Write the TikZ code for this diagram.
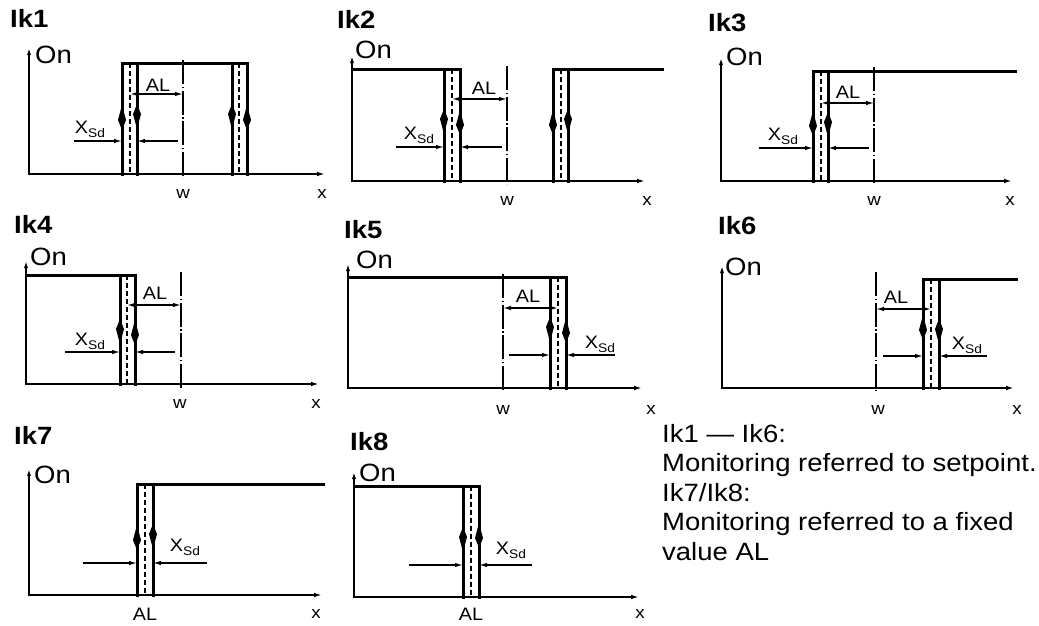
\documentclass[tikz,border=0pt]{standalone}
\usepackage{fontspec}
\setmainfont{Liberation Sans}[FakeStretch=1.1]
\usetikzlibrary{arrows.meta}
\newcommand{\xsdlabel}{X\raisebox{-4pt}{\fontsize{12.5}{12.5}\selectfont Sd}}
\begin{document}
\begin{tikzpicture}[x=1pt,y=-1pt,
  axis/.style={line width=2.4pt,{Latex[length=8pt,width=4pt]}-{Latex[length=9pt,width=4.5pt]}},
  sig/.style={line width=3pt,line join=miter,line cap=rect},
  dsh/.style={line width=1.3pt,dash pattern=on 5pt off 3pt},
  wline/.style={line width=1.3pt,dash pattern=on 24pt off 2.5pt on 1.5pt off 2.5pt},
  dim/.style={line width=1.3pt,-{Latex[length=8pt,width=4.5pt]}},
  dimb/.style={line width=1.3pt,{Latex[length=8pt,width=4.5pt]}-{Latex[length=8pt,width=4.5pt]}},
  ttl/.style={font=\bfseries\fontsize{25}{25}\selectfont,inner sep=0pt,anchor=base west},
  onl/.style={font=\fontsize{25}{25}\selectfont,inner sep=0pt,anchor=base west},
  axl/.style={font=\fontsize{17}{17}\selectfont,inner sep=0pt},
  all/.style={font=\fontsize{18}{18}\selectfont,inner sep=0pt},
  xsd/.style={font=\fontsize{18}{18}\selectfont,inner sep=0pt},
  txt/.style={font=\fontsize{25}{29.5}\selectfont,inner sep=0pt,align=left,anchor=base west},
  arup/.pic={\fill (0,-13) -- (4,-3) -- (0,12) -- (-4,-3) -- cycle;},
  ardn/.pic={\fill (0,13) -- (4,3) -- (0,-12) -- (-4,3) -- cycle;}
]
\useasboundingbox (0,0) rectangle (1039,625);
\fill[white] (0,0) rectangle (1039,625);

% ---------------- Ik1
\node[ttl] (t1) at (10,27) {Ik1};
\node[onl] (on1) at (35,63) {On};
\draw[axis] (29,47) -- (29,174) -- (326,174);
\draw[sig] (122,174) -- (122,63) -- (247,63) -- (247,174);
\draw[sig] (137,63) -- (137,174);
\draw[sig] (232,63) -- (232,174);
\draw[dsh] (130,63) -- (130,174);
\draw[dsh] (239,63) -- (239,174);
\draw[wline] (183,60) -- (183,178);
\pic at (122,117) {ardn};
\pic at (137,117) {arup};
\pic at (232,117) {arup};
\pic at (247,117) {ardn};
\draw[dimb] (130,94) -- (183,94);
\node[all] (al1) at (158,85) {AL};
\draw[dim] (74,141) -- (122,141);
\draw[dim] (178,141) -- (137,141);
\node[xsd] (x1) at (90,129) {\xsdlabel};
\node[axl] (w1) at (183,194) {w};
\node[axl] (xx1) at (322,194) {x};

% ---------------- Ik2
\node[ttl] (t2) at (337,28) {Ik2};
\node[onl] (on2) at (355,58) {On};
\draw[axis] (352,55) -- (352,181) -- (646,181);
\draw[sig] (352,69) -- (460,69) -- (460,181);
\draw[sig] (444,69) -- (444,181);
\draw[sig] (553,181) -- (553,69) -- (662,69);
\draw[sig] (568,69) -- (568,181);
\draw[dsh] (452,69) -- (452,181);
\draw[dsh] (561,69) -- (561,181);
\draw[wline] (507,66) -- (507,184);
\pic at (444,122) {arup};
\pic at (460,122) {ardn};
\pic at (553,122) {ardn};
\pic at (568,122) {arup};
\draw[dimb] (452,99) -- (507,99);
\node[all] (al2) at (484,88) {AL};
\draw[dim] (396,147) -- (444,147);
\draw[dim] (502,147) -- (460,147);
\node[xsd] (x2) at (419,135) {\xsdlabel};
\node[axl] (w2) at (507,201) {w};
\node[axl] (xx2) at (647,201) {x};

% ---------------- Ik3
\node[ttl] (t3) at (708,31) {Ik3};
\node[onl] (on3) at (726,65) {On};
\draw[axis] (721,57) -- (721,181) -- (1013,181);
\draw[sig] (813,181) -- (813,71) -- (1015,71);
\draw[sig] (828,71) -- (828,181);
\draw[dsh] (821,71) -- (821,181);
\draw[wline] (874,67) -- (874,184);
\pic at (813,123) {ardn};
\pic at (828,125) {arup};
\draw[dimb] (821,103) -- (874,103);
\node[all] (al3) at (848,92) {AL};
\draw[dim] (759,148) -- (813,148);
\draw[dim] (869,148) -- (828,148);
\node[xsd] (x3) at (783,136) {\xsdlabel};
\node[axl] (w3) at (874,201) {w};
\node[axl] (xx3) at (1010,201) {x};

% ---------------- Ik4
\node[ttl] (t4) at (14,233) {Ik4};
\node[onl] (on4) at (30,265) {On};
\draw[axis] (26,260) -- (26,384) -- (320,384);
\draw[sig] (26,275) -- (135,275) -- (135,384);
\draw[sig] (120,275) -- (120,384);
\draw[dsh] (127,275) -- (127,384);
\draw[wline] (181,272) -- (181,388);
\pic at (120,332) {arup};
\pic at (135,332) {ardn};
\draw[dimb] (127,305) -- (181,305);
\node[all] (al4) at (155,293) {AL};
\draw[dim] (65,352) -- (120,352);
\draw[dim] (175,352) -- (135,352);
\node[xsd] (x4) at (90,341) {\xsdlabel};
\node[axl] (w4) at (180,404) {w};
\node[axl] (xx4) at (316,404) {x};

% ---------------- Ik5
\node[ttl] (t5) at (344,238) {Ik5};
\node[onl] (on5) at (356,268) {On};
\draw[axis] (348,263) -- (348,388) -- (643,388);
\draw[sig] (348,277) -- (566,277) -- (566,388);
\draw[sig] (550,277) -- (550,388);
\draw[dsh] (558,277) -- (558,388);
\draw[wline] (503,274) -- (503,391);
\pic at (550,330) {arup};
\pic at (566,330) {ardn};
\draw[dimb] (503,308) -- (558,308);
\node[all] (al5) at (528,296) {AL};
\draw[dim] (509,355) -- (550,355);
\draw[dim] (615,355) -- (566,355);
\node[xsd] (x5) at (600,344) {\xsdlabel};
\node[axl] (w5) at (503,410) {w};
\node[axl] (xx5) at (651,410) {x};

% ---------------- Ik6
\node[ttl] (t6) at (718,234) {Ik6};
\node[onl] (on6) at (725,275) {On};
\draw[axis] (722,265) -- (722,388) -- (1015,388);
\draw[sig] (923,388) -- (923,279) -- (1016,279);
\draw[sig] (939,279) -- (939,388);
\draw[dsh] (931,279) -- (931,388);
\draw[wline] (876,272) -- (876,391);
\pic at (923,327) {ardn};
\pic at (939,332) {arup};
\draw[dimb] (876,309) -- (931,309);
\node[all] (al6) at (896,297) {AL};
\draw[dim] (883,356) -- (923,356);
\draw[dim] (987,356) -- (939,356);
\node[xsd] (x6) at (967,345) {\xsdlabel};
\node[axl] (w6) at (878,410) {w};
\node[axl] (xx6) at (1017,410) {x};

% ---------------- Ik7
\node[ttl] (t7) at (14,444) {Ik7};
\node[onl] (on7) at (34,483) {On};
\draw[axis] (29,468) -- (29,595) -- (323,595);
\draw[sig] (137,595) -- (137,484) -- (323,484);
\draw[sig] (153,484) -- (153,595);
\draw[dsh] (145,484) -- (145,595);
\pic at (137,537) {ardn};
\pic at (153,537) {arup};
\draw[dim] (83,563) -- (137,563);
\draw[dim] (207,563) -- (153,563);
\node[xsd] (x7) at (185,547) {\xsdlabel};
\node[all] (al7) at (145,614) {AL};
\node[axl] (xx7) at (316,614) {x};

% ---------------- Ik8
\node[ttl] (t8) at (350,450) {Ik8};
\node[onl] (on8) at (359,481) {On};
\draw[axis] (354,471) -- (354,597) -- (640,597);
\draw[sig] (354,486) -- (479,486) -- (479,597);
\draw[sig] (463,486) -- (463,597);
\draw[dsh] (471,486) -- (471,597);
\pic at (463,540) {arup};
\pic at (479,535) {ardn};
\draw[dim] (409,565) -- (463,565);
\draw[dim] (532,565) -- (479,565);
\node[xsd] (x8) at (511,550) {\xsdlabel};
\node[all] (al8) at (471,614) {AL};
\node[axl] (xx8) at (640,614) {x};

% ---------------- note
\node[txt] (note) at (662,560) {Ik1 — Ik6:\\Monitoring referred to setpoint.\\Ik7/Ik8:\\Monitoring referred to a fixed\\value AL};
\end{tikzpicture}
\end{document}
